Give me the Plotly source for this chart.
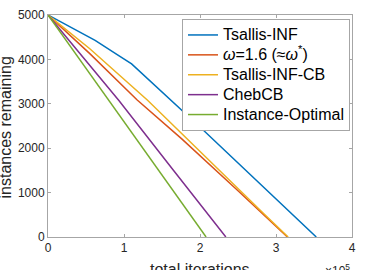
import plotly.graph_objects as go

# x values in iterations, y = instances remaining
tsallis_x = [0, 30000, 62000, 90000, 110000, 204500, 353000]
tsallis_y = [5000, 4720, 4430, 4120, 3900, 2403, 0]

omega_x = [0, 55000, 117000, 176000, 250000, 283000, 315000]
omega_y = [5000, 4130, 3090, 2210, 1040, 520, 0]

tcb_x = [0, 55000, 131000, 178000, 250000, 283000, 316000]
tcb_y = [5000, 4240, 3080, 2290, 1090, 540, 0]

cheb_x = [0, 93000, 165000, 234000]
cheb_y = [5000, 3079, 1502, 0]

opt_x = [0, 80000, 145000, 208000]
opt_y = [5000, 3079, 1502, 0]

names = ["Tsallis-INF", "<i>ω</i>=1.6 (≈<i>ω</i><sup>*</sup>)", "Tsallis-INF-CB", "ChebCB", "Instance-Optimal"]
colors = ["#0072BD", "#D95319", "#EDB120", "#7E2F8E", "#77AC30"]

x_tickvals = [0, 100000, 200000, 300000, 400000]
x_ticktext = ["0", "1", "2", "3", "4"]
y_tickvals = [0, 1000, 2000, 3000, 4000, 5000]

fig = go.Figure()
for xs, ys, n, c in zip([tsallis_x, omega_x, tcb_x, cheb_x, opt_x],
                        [tsallis_y, omega_y, tcb_y, cheb_y, opt_y], names, colors):
    fig.add_trace(go.Scatter(x=xs, y=ys, mode="lines",
                             name='<span style="font-size:16px">' + n + '</span>',
                             line=dict(color=c, width=1.5)))

axis_common = dict(showgrid=False, zeroline=False, showline=True, mirror="ticks",
                   linecolor="#a6a6a6", linewidth=1, ticks="inside", ticklen=3,
                   tickcolor="#a6a6a6", automargin=False,
                   tickfont=dict(family="Liberation Sans, Arial", size=12, color="#262626"))

fig.update_layout(
    width=383, height=270,
    margin=dict(l=48, r=31, t=15, b=33),
    paper_bgcolor="white", plot_bgcolor="white",
    font=dict(family="Liberation Sans, Arial", color="#262626"),
    xaxis=dict(range=[0, 400000], tickvals=x_tickvals, ticktext=x_ticktext, **axis_common),
    yaxis=dict(range=[0, 5000], tickvals=y_tickvals, **axis_common),
    legend=dict(x=(182 - 48) / 304, y=1 - 4 / 222, xanchor="left", yanchor="top",
                bordercolor="#a6a6a6", borderwidth=1, bgcolor="white",
                font=dict(size=13, color="#000000"), tracegroupgap=0,
                itemwidth=30),
    showlegend=True,
    annotations=[
        dict(text="instances remaining", xref="paper", yref="paper",
             x=(5 - 48) / 304, y=(237 - 127.5) / 222, textangle=-90, showarrow=False,
             xanchor="center", yanchor="middle", font=dict(size=16, color="#262626")),
        dict(text="total iterations", xref="paper", yref="paper",
             x=(200 - 48) / 304, y=(237 - 259) / 222, showarrow=False,
             xanchor="center", yanchor="top",
             font=dict(size=16, color="#262626")),
        dict(text="×10<sup>5</sup>", xref="paper", yref="paper",
             x=1.0, y=(237 - 260) / 222, showarrow=False, xanchor="right", yanchor="top",
             font=dict(size=12, color="#262626")),
    ],
)

fig.write_html("out.html", config={"displayModeBar": False},
               post_script="document.body.style.margin='0';")
